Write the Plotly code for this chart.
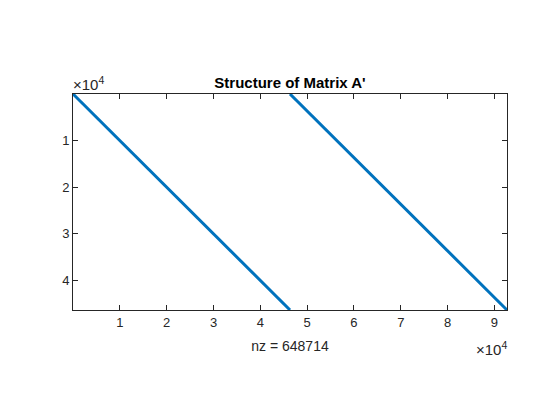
import plotly.graph_objects as go

# Matrix structure data
n_rows = 46338                 # rows of A'
n_cols = 2 * n_rows            # columns of A'
nz = 648714                    # number of nonzeros
# diagonal bands: (start col, start row, end col, end row)
band_cols_start = [1, n_rows + 1]
band_cols_end = [n_rows, n_cols]
band_rows_start = [1, 1]
band_rows_end = [n_rows, n_rows]

tick_vals = [10000, 20000, 30000, 40000, 50000, 60000, 70000, 80000, 90000]
tick_text = ["1", "2", "3", "4", "5", "6", "7", "8", "9"]
ytick_vals = [10000, 20000, 30000, 40000]
ytick_text = ["1", "2", "3", "4"]

blue = "#0072BD"
axcol = "#262626"
font = "Liberation Sans, Arial, sans-serif"

fig = go.Figure()
for xs, xe, ys, ye in zip(band_cols_start, band_cols_end, band_rows_start, band_rows_end):
    fig.add_trace(go.Scatter(x=[xs, xe], y=[ys, ye], mode="lines",
                             line=dict(color=blue, width=3), showlegend=False,
                             hoverinfo="skip"))

axis_common = dict(showgrid=False, zeroline=False, showline=True, linecolor=axcol,
                   linewidth=1, mirror="ticks", ticks="inside", ticklen=5,
                   tickcolor=axcol, tickfont=dict(family=font, size=13, color=axcol))

H = 420
T = 86
fig.update_layout(
    width=560, height=H,
    margin=dict(l=65, r=61, t=T, b=H - T - 216),
    paper_bgcolor="white", plot_bgcolor="white",
    title=dict(text="<b>Structure of Matrix A'</b>", x=(65 + 217) / 560, xanchor="center",
               y=1 - 75 / H, yanchor="middle",
               font=dict(family=font, size=15, color="black")),
    xaxis=dict(range=[0, n_cols + 1], tickvals=tick_vals, ticktext=tick_text,
               title=dict(text=f"nz = {nz}", font=dict(family=font, size=14, color=axcol),
                          standoff=12),
               **axis_common),
    yaxis=dict(range=[n_rows + 1, 0], tickvals=ytick_vals, ticktext=ytick_text,
               **axis_common),
    annotations=[
        dict(text="×10<sup>4</sup>", xref="paper", yref="paper", x=0, y=1,
             xanchor="left", yanchor="bottom", showarrow=False, xshift=-2, yshift=-1,
             font=dict(family=font, size=15, color=axcol)),
        dict(text="×10<sup>4</sup>", xref="paper", yref="paper", x=1, y=0,
             xanchor="right", yanchor="top", showarrow=False, xshift=2, yshift=-27,
             font=dict(family=font, size=15, color=axcol)),
    ],
)

fig.write_html("out.html")
